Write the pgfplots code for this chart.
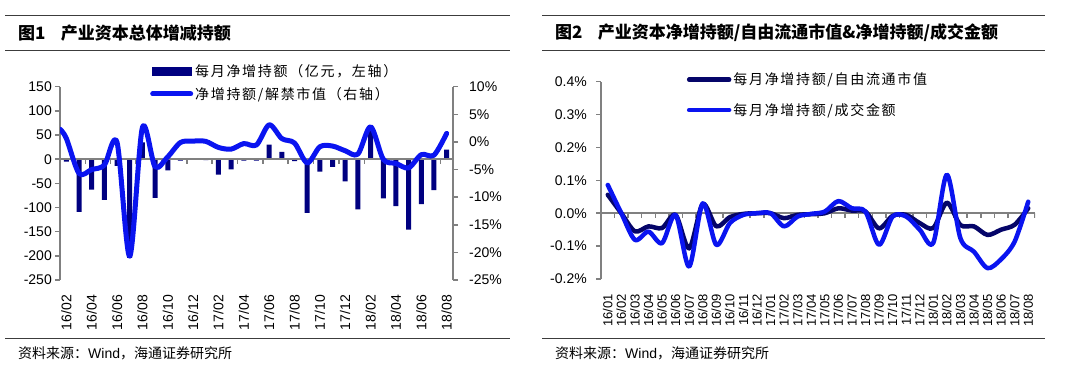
\documentclass[border=0pt]{standalone}
\usepackage{fontspec}
\usepackage{pgfplots}
\pgfplotsset{compat=1.18}
\setmainfont{Liberation Sans}
\newfontfamily\cjk{Noto Sans CJK SC}
\newfontfamily\cjkl[LetterSpace=12]{Noto Sans CJK SC}
\definecolor{navy}{RGB}{0,0,128}
\definecolor{bblue}{RGB}{10,20,240}
\definecolor{dnavy}{RGB}{5,5,105}
\definecolor{axgray}{RGB}{128,128,128}
\definecolor{rulec}{RGB}{60,60,60}

\pgfplotsset{
  common/.style={
    scale only axis, enlargelimits=false, clip=true,
    tick align=outside, major tick length=5pt,
    ytick style={axgray, line width=1.5pt},
    xtick style={draw=none},
    y axis line style={axgray, line width=2.5pt},
    ticklabel style={font=\fontsize{14}{14}\selectfont},
  }
}

\begin{document}
\begin{tikzpicture}
\path[use as bounding box, fill=white] (0pt,0pt) rectangle (1080pt,371pt);
\foreach \y in {356pt,321pt,33pt} {
  \draw[rulec, line width=0.9pt] (5pt,\y) -- (510pt,\y);
  \draw[rulec, line width=0.9pt] (542pt,\y) -- (1045pt,\y);
}
\node[anchor=west, inner sep=0pt, font=\cjk\bfseries\fontsize{17}{17}\selectfont] at (18pt,338pt) {图1\hspace{0.9em}产业资本总体增减持额};
\node[anchor=west, inner sep=0pt, font=\cjk\bfseries\fontsize{17}{17}\selectfont] at (555pt,338pt) {图2\hspace{0.9em}产业资本净增持额/自由流通市值\&净增持额/成交金额};
\node[anchor=west, inner sep=0pt, font=\fontsize{14}{14}\selectfont] at (18pt,18pt) {{\cjk 资料来源：}Wind{\cjk ，海通证券研究所}};
\node[anchor=west, inner sep=0pt, font=\fontsize{14}{14}\selectfont] at (555pt,18pt) {{\cjk 资料来源：}Wind{\cjk ，海通证券研究所}};

% ---------------- Chart 1: bars (left axis) ----------------
\begin{axis}[common,
  at={(60pt,91pt)}, anchor=south west,
  width=393pt, height=193.3pt,
  xmin=-0.5, xmax=30.5, ymin=-250, ymax=150,
  axis y line*=left, axis x line*=bottom,
  x axis line style={draw=none},
  ytick={-250,-200,-150,-100,-50,0,50,100,150},
  yticklabels={-250,-200,-150,-100,-50,0,50,100,150},
  yticklabel style={inner xsep=0pt, xshift=-3pt},
  xtick={0,2,...,30},
  xticklabels={16/02,16/04,16/06,16/08,16/10,16/12,17/02,17/04,17/06,17/08,17/10,17/12,18/02,18/04,18/06,18/08},
  xticklabel style={rotate=90, anchor=east, inner sep=0pt, xshift=-10pt},
]
\addplot[ybar, bar width=5pt, fill=navy, draw=none] coordinates {
(0,-5) (1,-109) (2,-63) (3,-84) (4,-14) (5,-204) (6,35) (7,-80) (8,-23) (9,-3)
(10,-1) (11,-2) (12,-32) (13,-21) (14,-3) (15,-3) (16,30) (17,15) (18,-4) (19,-111)
(20,-26) (21,-16) (22,-46) (23,-104) (24,70) (25,-81) (26,-97) (27,-146) (28,-93) (29,-64)
(30,20)};
\draw[axgray, line width=2.5pt] (axis cs:-0.5,0) -- (axis cs:30.5,0);
\pgfplotsinvokeforeach{1.5,3.5,...,29.5}{
  \draw[axgray, line width=1.5pt] (axis cs:#1,0) -- ([yshift=-5pt]axis cs:#1,0);
}
\end{axis}

% ---------------- Chart 1: line (right axis) ----------------
\begin{axis}[common,
  at={(60pt,91pt)}, anchor=south west,
  width=393pt, height=193.3pt,
  xmin=-0.5, xmax=30.5, ymin=-25, ymax=10,
  axis y line*=right, axis x line=none,
  ytick={-25,-20,-15,-10,-5,0,5,10},
  yticklabels={-25\%,-20\%,-15\%,-10\%,-5\%,0\%,5\%,10\%},
  yticklabel style={inner xsep=0pt, xshift=11pt},
  legend style={draw=none, fill=none, at={(0.229,1.12)}, anchor=north west,
    inner sep=0pt, row sep=7pt, font=\cjkl\fontsize{14}{14}\selectfont,
    legend cell align=left, nodes={inner xsep=2pt, inner ysep=1pt}},
]
\addlegendimage{legend image code/.code={\fill[navy] (0pt,-4pt) rectangle (38pt,4pt);}}
\addlegendentry{每月净增持额（亿元，左轴）}
\addplot[bblue, line width=5pt, smooth, tension=0.5, line cap=round, line join=round,
  legend image code/.code={\draw[bblue, line width=5pt, line cap=round] (0pt,0pt) -- (38pt,0pt);}]
 coordinates {
(-0.5,2.3) (0,0.65) (1,-5.7) (2,-5.0) (3,-4.2) (4,-0.1) (5,-20.7) (6,2.6) (7,-4.5) (8,-2.7)
(9,-0.1) (10,0.15) (11,0.1) (12,-1.0) (13,-1.3) (14,-0.3) (15,-0.55) (16,3.1) (17,0.6) (18,-0.2)
(19,-3.8) (20,-0.87) (21,-0.75) (22,-1.6) (23,-2.2) (24,2.75) (25,-3.15) (26,-3.9) (27,-4.7) (28,-2.3)
(29,-2.4) (30,1.55)};
\addlegendentry{净增持额/解禁市值（右轴）}
\end{axis}

% ---------------- Chart 2 ----------------
\begin{axis}[common,
  at={(601pt,92pt)}, anchor=south west,
  width=434pt, height=197.3pt,
  xmin=-0.5, xmax=31.5, ymin=-0.2, ymax=0.4,
  axis y line*=left, axis x line*=bottom,
  x axis line style={draw=none},
  ytick={-0.2,-0.1,0,0.1,0.2,0.3,0.4},
  yticklabels={-0.2\%,-0.1\%,0.0\%,0.1\%,0.2\%,0.3\%,0.4\%},
  yticklabel style={inner xsep=0pt, xshift=-9pt},
  xtick={0,1,...,31},
  xticklabels={16/01,16/02,16/03,16/04,16/05,16/06,16/07,16/08,16/09,16/10,16/11,16/12,17/01,17/02,17/03,17/04,17/05,17/06,17/07,17/08,17/09,17/10,17/11,17/12,18/01,18/02,18/03,18/04,18/05,18/06,18/07,18/08},
  xticklabel style={rotate=90, anchor=east, inner sep=0pt, xshift=-10pt, font=\fontsize{13}{13}\selectfont},
  legend style={draw=none, fill=none, at={(0.1975,1.05)}, anchor=north west,
    inner sep=0pt, row sep=15pt, font=\cjkl\fontsize{14}{14}\selectfont,
    legend cell align=left, nodes={inner xsep=2pt, inner ysep=1pt}},
]
\draw[axgray, line width=2.5pt] (axis cs:-0.5,0) -- (axis cs:31.5,0);
\pgfplotsinvokeforeach{0.5,1.5,...,31.5}{
  \draw[axgray, line width=1.5pt] (axis cs:#1,0) -- ([yshift=-5pt]axis cs:#1,0);
}
\addplot[dnavy, line width=4.5pt, smooth, tension=0.5, line cap=round, line join=round,
  legend image code/.code={\draw[dnavy, line width=4.5pt, line cap=round] (0pt,0pt) -- (40pt,0pt);}]
 coordinates {
(0,0.056) (1,0.0) (2,-0.055) (3,-0.04) (4,-0.045) (5,-0.005) (6,-0.107) (7,0.028) (8,-0.04) (9,-0.012)
(10,-0.002) (11,0) (12,0) (13,-0.015) (14,-0.005) (15,-0.003) (16,0.0) (17,0.015) (18,0.008) (19,0.005)
(20,-0.046) (21,-0.008) (22,-0.005) (23,-0.03) (24,-0.045) (25,0.032) (26,-0.036) (27,-0.04) (28,-0.066) (29,-0.05)
(30,-0.035) (31,0.015)};
\addlegendentry{每月净增持额/自由流通市值}
\addplot[bblue, line width=4.5pt, smooth, tension=0.5, line cap=round, line join=round,
  legend image code/.code={\draw[bblue, line width=4.5pt, line cap=round] (0pt,0pt) -- (40pt,0pt);}]
 coordinates {
(0,0.086) (1,0.0) (2,-0.081) (3,-0.056) (4,-0.091) (5,-0.005) (6,-0.162) (7,0.03) (8,-0.096) (9,-0.03)
(10,-0.005) (11,0) (12,0) (13,-0.04) (14,-0.01) (15,-0.002) (16,0.005) (17,0.037) (18,0.015) (19,0.005)
(20,-0.096) (21,-0.01) (22,-0.01) (23,-0.05) (24,-0.09) (25,0.117) (26,-0.076) (27,-0.117) (28,-0.167) (29,-0.14)
(30,-0.086) (31,0.035)};
\addlegendentry{每月净增持额/成交金额}
\end{axis}
\end{tikzpicture}
\end{document}
